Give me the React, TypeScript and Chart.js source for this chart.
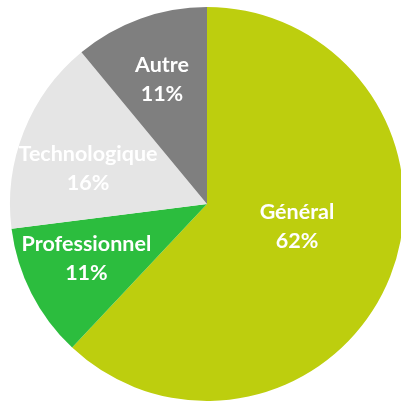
import React, { useEffect, useRef } from "react";
import { Chart, registerables } from "chart.js";

Chart.register(...registerables);

const categories = ["Général", "Professionnel", "Technologique", "Autre"];
const values = [62, 11, 16, 11];
const colors = ["#BDCE0E", "#2CBD3E", "#E5E5E5", "#7F7F7F"];
// label placement relative to each slice (radius fraction, angle shift in degrees)
const labelRadiusFraction = [0.47, 0.67, 0.63, 0.675];
const labelAngleShift = [-8, 3, -5, 0];

const labelPlugin = {
  id: "sliceLabels",
  afterDatasetsDraw(chart: any) {
    const ctx = chart.ctx;
    const meta = chart.getDatasetMeta(0);
    const total = values.reduce((a, b) => a + b, 0);
    ctx.save();
    ctx.fillStyle = "#FFFFFF";
    ctx.font = "bold 21.5px Lato";
    ctx.textAlign = "center";
    ctx.textBaseline = "middle";
    meta.data.forEach((arc: any, i: number) => {
      const p = arc.getProps(["x", "y", "startAngle", "endAngle", "outerRadius"], true);
      const mid = (p.startAngle + p.endAngle) / 2 + (labelAngleShift[i] * Math.PI) / 180;
      const r = p.outerRadius * labelRadiusFraction[i];
      const cx = p.x + Math.cos(mid) * r;
      const cy = p.y + Math.sin(mid) * r;
      const pct = Math.round((values[i] / total) * 100) + "%";
      ctx.fillText(categories[i], cx, cy - 14);
      ctx.fillText(pct, cx, cy + 15);
    });
    ctx.restore();
  },
};

export default function App() {
  const ref = useRef<HTMLCanvasElement | null>(null);
  useEffect(() => {
    if (!ref.current) return;
    const chart = new Chart(ref.current, {
      type: "pie",
      data: {
        labels: categories,
        datasets: [
          {
            data: values,
            backgroundColor: colors,
            borderWidth: 0,
          },
        ],
      },
      options: {
        responsive: false,
        animation: false,
        layout: { padding: { top: 7, bottom: 7, left: 0, right: 0 } },
        plugins: {
          legend: { display: false },
          tooltip: { enabled: false },
        },
      },
      plugins: [labelPlugin],
    });
    return () => chart.destroy();
  }, []);
  return (
    <div
      style={{
        position: "absolute",
        left: 0,
        top: 0,
        width: 401,
        height: 403,
        overflow: "hidden",
        background: "#FFFFFF",
      }}
    >
      <canvas ref={ref} width={414} height={408} style={{ display: "block" }} />
    </div>
  );
}
